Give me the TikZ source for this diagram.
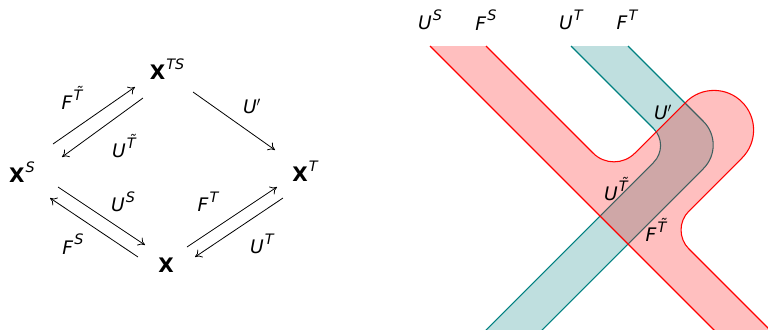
\documentclass[tikz,border=0pt]{standalone}
\usepackage{fontspec}
\setmainfont{DejaVu Sans}
\usetikzlibrary{calc,arrows.meta}
\newcommand\myup[1]{\kern0.8pt\raisebox{0.5em}{\fontsize{10.8}{11}\selectfont\itshape #1}}
\newcommand\lbl[2]{\textit{#1}\myup{#2}}
\newcommand\tT{\ooalign{T\cr\hidewidth\kern0.12em\raisebox{0.2em}{\char"02DC}\hidewidth\cr}}
\begin{document}
\begin{tikzpicture}[x=0.75pt,y=-0.75pt,
  obj/.style={inner sep=0pt,font=\fontsize{15}{17}\selectfont},
  lab/.style={inner sep=0pt,font=\fontsize{14}{16}\selectfont},
  arr/.style={->,line width=0.6pt,>={To[length=5pt,width=7pt]}},
  redfill/.style={fill=red,fill opacity=0.25},
  redline/.style={draw=red,line width=0.8pt},
  tealfill/.style={fill=teal!25},
  tealline/.style={draw=teal,line width=0.8pt}]
\useasboundingbox (0,0) rectangle (768,329);
% ---------- left diagram ----------
\node[obj] (a) at (167,69) {\textbf{X}\myup{TS}};
\node[obj] (s) at (22,172) {\textbf{X}\myup{S}};
\node[obj] (t) at (305,171) {\textbf{X}\myup{T}};
\node[obj] (b) at (166,265) {\textbf{X}};
\draw[arr] ([shift={(31,-28)}]s.center) -- ([shift={(-32,18)}]a.center);
\draw[arr] ([shift={(-24,29)}]a.center) -- ([shift={(40,-15)}]s.center);
\draw[arr] ([shift={(26,23)}]a.center) -- ([shift={(-30,-21)}]t.center);
\draw[arr] ([shift={(36,15)}]s.center) -- ([shift={(-21,-20)}]b.center);
\draw[arr] ([shift={(-28,-8)}]b.center) -- ([shift={(28,26)}]s.center);
\draw[arr] ([shift={(21,-18)}]b.center) -- ([shift={(-28,16)}]t.center);
\draw[arr] ([shift={(-22,27)}]t.center) -- ([shift={(29,-8)}]b.center);
\node[lab] (l1) at (72,100) {\lbl{F}{\tT}};
\node[lab] (l2) at (124,148) {\lbl{U}{\tT}};
\node[lab] (l3) at (252,106) {\textit{U\/}$'$};
\node[lab] (l4) at (123,202) {\lbl{U}{S}};
\node[lab] (l5) at (73,244) {\lbl{F}{S}};
\node[lab] (l6) at (208,202) {\lbl{F}{T}};
\node[lab] (l7) at (262,244) {\lbl{U}{T}};
% ---------- right diagram ----------
\begin{scope}
\clip (400,0) rectangle (768,329);
% teal band
\fill[tealfill] (571,46) -- (628,46) [rounded corners=25] -- (727,145) [sharp corners] -- (532,340) -- (476,340) [rounded corners=18] -- (670.5,145.5) [sharp corners] -- cycle;
\draw[tealline] (571,46) [rounded corners=18] -- (670.5,145.5) [sharp corners] -- (476,340);
\draw[tealline] (628,46) [rounded corners=25] -- (727,145) [sharp corners] -- (532,340);
% red shape
\path[redfill] (430,46) -- (486,46) [rounded corners=22] -- (614,174) [sharp corners] -- (686,102)
  arc[start angle=225,end angle=405,radius=39.6] [rounded corners=20] -- (670,230) [sharp corners] -- (780,340) -- (724,340) -- cycle;
\draw[redline] (430,46) -- (724,340);
\draw[redline] (486,46) [rounded corners=22] -- (614,174) [sharp corners] -- (686,102)
  arc[start angle=225,end angle=405,radius=39.6] [rounded corners=20] -- (670,230) [sharp corners] -- (780,340);
\end{scope}
\node[lab] (us) at (430,20) {\lbl{U}{S}};
\node[lab] (fs) at (486,20) {\lbl{F}{S}};
\node[lab] (ut) at (571,20) {\lbl{U}{T}};
\node[lab] (ft) at (627,20) {\lbl{F}{T}};
\node[lab] (up) at (663,112) {\textit{U\/}$'$};
\node[lab] (ut2) at (616,191) {\lbl{U}{\tT}};
\node[lab] (ft2) at (656,232) {\lbl{F}{\tT}};
\end{tikzpicture}
\end{document}
